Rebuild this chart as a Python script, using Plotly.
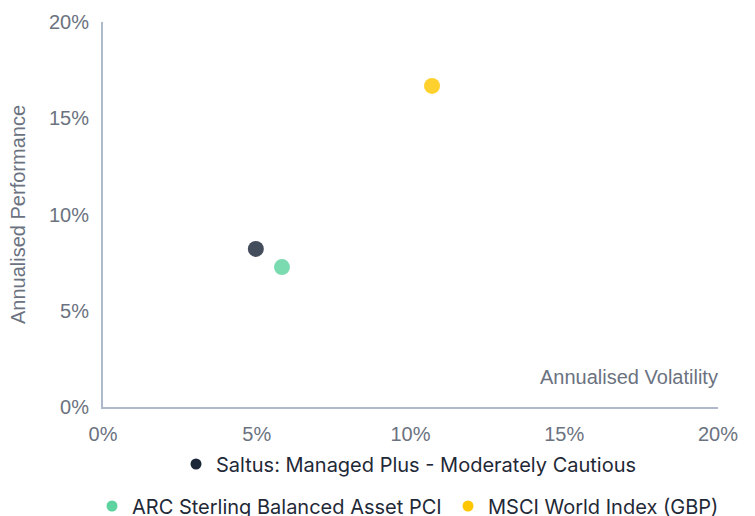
import plotly.graph_objects as go

series_names = ["Saltus: Managed Plus - Moderately Cautious",
                "ARC Sterling Balanced Asset PCI",
                "MSCI World Index (GBP)"]
volatility = [4.97, 5.82, 10.70]
performance = [8.21, 7.27, 16.68]
colors = ["#1b2638", "#5dd3a0", "#ffc700"]
legend_ids = ["legend", "legend2", "legend3"]
legend_left_px = [176, 92, 448]
legend_mid_px = [464, 506, 506]
tick_vals = [0, 5, 10, 15, 20]
tick_text = ["0%", "5%", "10%", "15%", "20%"]

W, H = 755, 516

fig = go.Figure()
for name, x, y, c, lg in zip(series_names, volatility, performance, colors, legend_ids):
    fig.add_trace(go.Scatter(
        x=[x], y=[y], mode="markers", name=name, legendgroup=name, showlegend=False,
        marker=dict(color=c, size=16, opacity=0.82, line=dict(width=0)),
    ))
    fig.add_trace(go.Scatter(
        x=[None], y=[None], mode="markers", name=name, legendgroup=name,
        marker=dict(color=c, size=11, line=dict(width=0)), legend=lg,
    ))

axis_common = dict(
    range=[0, 20], tickvals=tick_vals, ticktext=tick_text,
    showgrid=False, zeroline=False, showline=True, automargin=False,
    linecolor="#aeb9cb", linewidth=2, ticks="",
    tickfont=dict(family="Liberation Sans", size=20, color="#6b7280"),
)

legend_font = dict(family="Inter", size=20, color="#1f2937")

legends = {}
for lg, lx, ly in zip(legend_ids, legend_left_px, legend_mid_px):
    legends[lg] = dict(orientation="h", x=lx / W, xanchor="left", xref="container",
                       y=1 - ly / H, yanchor="middle", yref="container",
                       font=legend_font, bgcolor="rgba(0,0,0,0)")

fig.update_layout(
    width=W, height=H,
    margin=dict(l=103, r=37, t=22, b=109),
    paper_bgcolor="white", plot_bgcolor="white",
    xaxis=dict(**axis_common, ticklabelstandoff=8),
    yaxis=dict(**axis_common, ticklabelstandoff=8,
               title=dict(text="Annualised Performance", standoff=18,
                          font=dict(family="Liberation Sans", size=20, color="#6b7280"))),
    annotations=[dict(text="Annualised Volatility", xref="paper", yref="paper",
                      x=1, y=0, xanchor="right", yanchor="bottom", yshift=17, xshift=2,
                      showarrow=False,
                      font=dict(family="Liberation Sans", size=20, color="#6b7280"))],
    showlegend=True,
    **legends,
)

fig.write_html("out.html", config={"displayModeBar": False},
               post_script="document.body.style.margin='0';document.body.style.overflow='hidden';")
